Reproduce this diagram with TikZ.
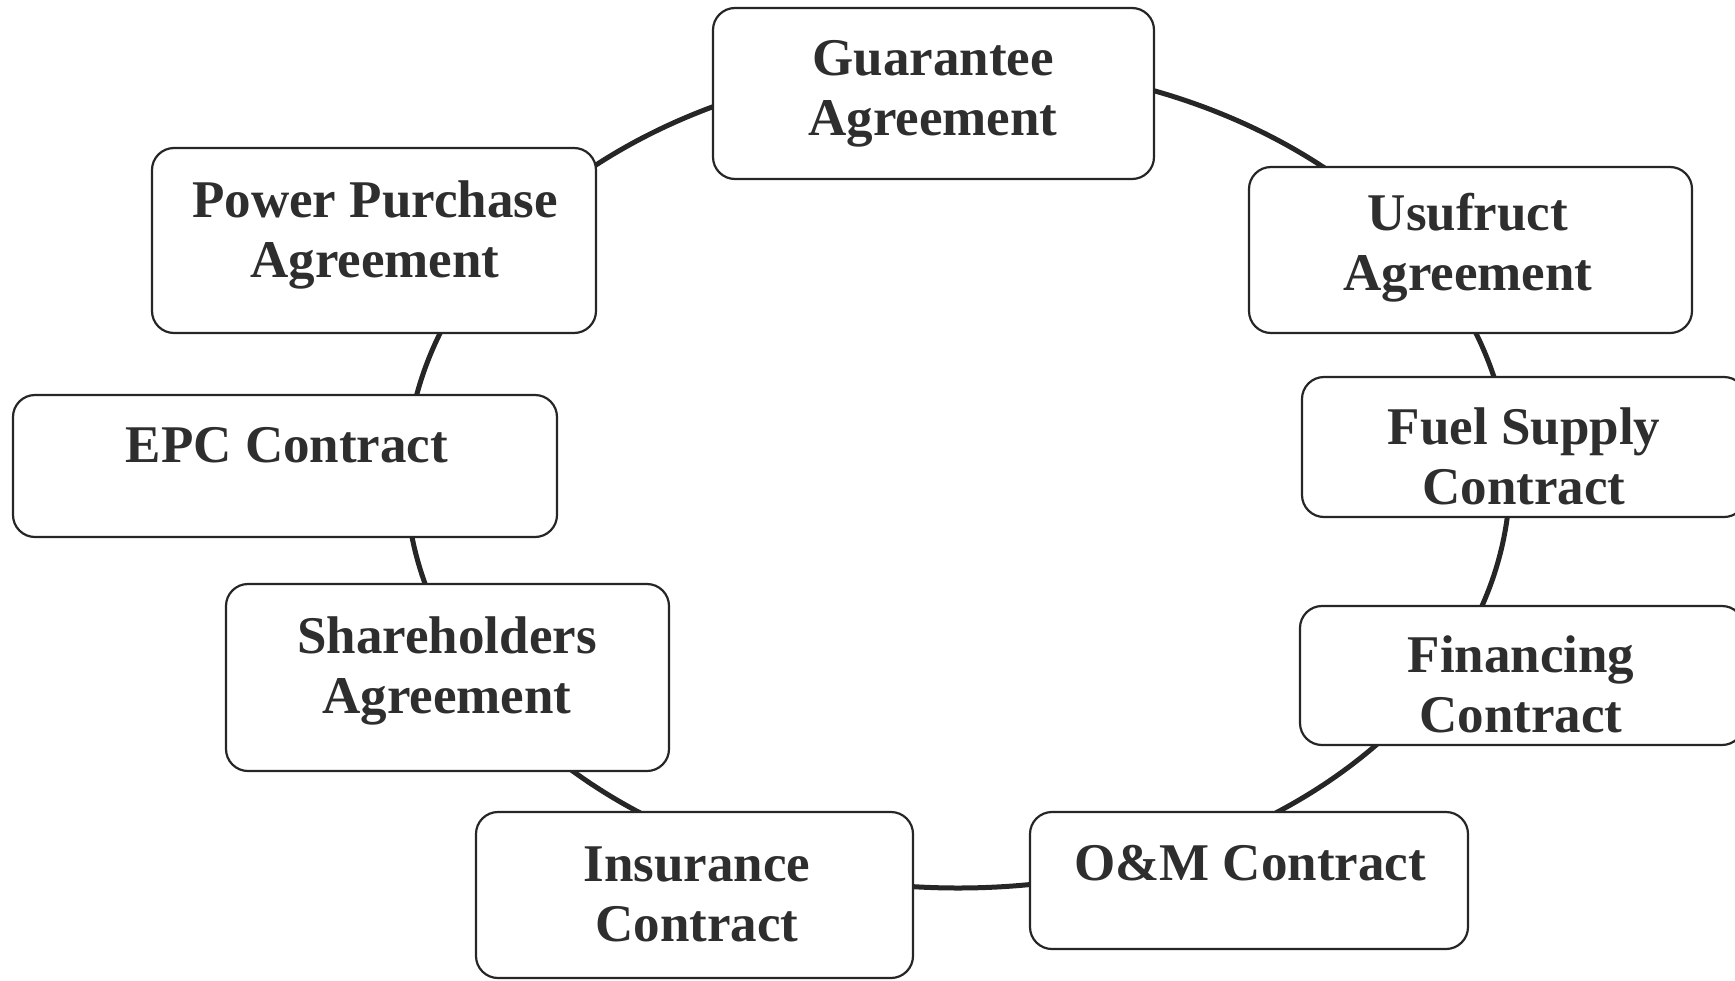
\documentclass[tikz,border=0pt]{standalone}
\usepackage{fontspec}
\setmainfont{Liberation Serif}
\definecolor{linec}{HTML}{262626}
\definecolor{textc}{HTML}{2E2E2E}
\begin{document}
\begin{tikzpicture}[x=1pt,y=-1pt,
  box/.style={draw=linec, line width=2.2pt, fill=white, rounded corners=22pt, inner sep=0pt},
  lbl/.style={anchor=base, inner sep=0pt, text=textc, font=\fontsize{53}{60}\selectfont\bfseries},
  ring/.style={draw=linec, line width=5pt}]
\useasboundingbox (0,0) rectangle (1735,980);
\begin{scope}
\clip (0,0) rectangle (1735,980);
% the ring behind the boxes
\path[ring] (958,476) ellipse [x radius=552pt, y radius=412pt];
% boxes
\node[box, minimum width=441pt, minimum height=171pt] (g)  at (933.5,93.5) {};
\node[box, minimum width=443pt, minimum height=166pt] (u)  at (1470.5,250) {};
\node[box, minimum width=444pt, minimum height=140pt] (f)  at (1524,447) {};
\node[box, minimum width=444pt, minimum height=139pt] (fi) at (1522,675.5) {};
\node[box, minimum width=438pt, minimum height=137pt] (o)  at (1249,880.5) {};
\node[box, minimum width=437pt, minimum height=166pt] (i)  at (694.5,895) {};
\node[box, minimum width=443pt, minimum height=187pt] (s)  at (447.5,677.5) {};
\node[box, minimum width=544pt, minimum height=142pt] (e)  at (285,466) {};
\node[box, minimum width=444pt, minimum height=185pt] (p)  at (374,240.5) {};
% labels
\node[lbl] (gt) at (933,75)  {\begin{tabular}[t]{@{}c@{}}Guarantee\\Agreement\end{tabular}};
\node[lbl] (ut) at (1468,230) {\begin{tabular}[t]{@{}c@{}}Usufruct\\Agreement\end{tabular}};
\node[lbl] (ft) at (1524,444) {\begin{tabular}[t]{@{}c@{}}Fuel Supply\\Contract\end{tabular}};
\node[lbl] (fit) at (1521,672) {\begin{tabular}[t]{@{}c@{}}Financing\\Contract\end{tabular}};
\node[lbl] (ot) at (1250,880) {O\&M Contract};
\node[lbl] (it) at (697,881) {\begin{tabular}[t]{@{}c@{}}Insurance\\Contract\end{tabular}};
\node[lbl] (st) at (447,653) {\begin{tabular}[t]{@{}c@{}}Shareholders\\Agreement\end{tabular}};
\node[lbl] (et) at (287,462) {EPC Contract};
\node[lbl] (pt) at (375,217) {\begin{tabular}[t]{@{}c@{}}Power Purchase\\Agreement\end{tabular}};
\end{scope}
\end{tikzpicture}
\end{document}
